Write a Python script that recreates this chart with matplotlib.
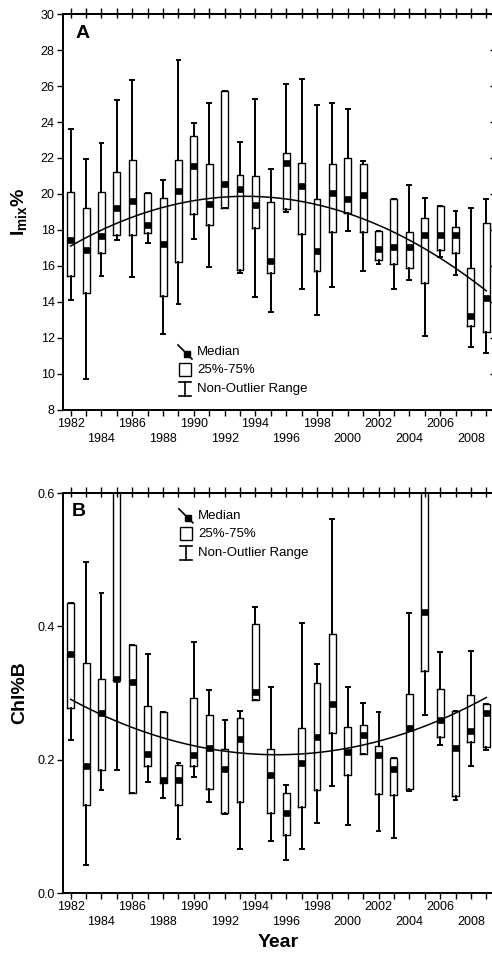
import numpy as np
import matplotlib as mpl
mpl.use('Agg')
import matplotlib.pyplot as plt
from matplotlib import transforms
from matplotlib.patches import Rectangle
from matplotlib.lines import Line2D

plt.rcParams['font.family'] = ['Liberation Sans', 'DejaVu Sans']
plt.rcParams['mathtext.fontset'] = 'custom'
plt.rcParams['mathtext.rm'] = 'Liberation Sans'
plt.rcParams['mathtext.bf'] = 'Liberation Sans:bold'

years = list(range(1982, 2010))

# panel A - Imix%  (whisker low, 25%, median, 75%, whisker high)
a_lo = [14.1, 9.7, 15.45, 17.45, 15.4, 17.3, 12.25, 13.9, 17.5, 15.95, 19.2, 15.6, 14.3, 13.45,
        19.0, 14.75, 13.3, 14.85, 17.95, 15.7, 16.1, 14.7, 15.2, 12.1, 16.5, 15.5, 11.5, 11.15]
a_q1 = [15.45, 14.5, 16.75, 17.7, 17.7, 17.85, 14.35, 16.2, 18.9, 18.3, 19.2, 15.8, 18.1, 15.6,
        19.15, 17.8, 15.7, 17.9, 18.95, 17.9, 16.35, 16.1, 15.9, 15.05, 16.9, 16.7, 12.65, 12.35]
a_med = [17.45, 16.9, 17.65, 19.25, 19.6, 18.3, 17.2, 20.15, 21.55, 19.45, 20.55, 20.3, 19.4, 16.3,
         21.7, 20.45, 16.85, 20.05, 19.7, 19.95, 16.95, 17.05, 17.05, 17.75, 17.75, 17.7, 13.2, 14.25]
a_q3 = [20.1, 19.2, 20.1, 21.2, 21.9, 20.05, 19.8, 21.9, 23.2, 21.65, 25.7, 21.05, 21.0, 19.55,
        22.3, 21.7, 19.7, 21.65, 22.0, 21.65, 17.95, 19.7, 17.9, 18.65, 19.35, 18.15, 15.9, 18.4]
a_hi = [23.6, 21.95, 22.85, 25.2, 26.35, 20.05, 20.8, 27.45, 23.95, 25.05, 25.7, 22.9, 25.3, 21.4,
        26.1, 26.4, 24.95, 25.05, 24.75, 21.85, 17.95, 19.7, 20.5, 19.8, 19.35, 19.05, 19.2, 19.7]

# panel B - Chl%B
b_lo = [0.23, 0.042, 0.155, 0.184, 0.1505, 0.1665, 0.1425, 0.0805, 0.1745, 0.1365, 0.119, 0.0655,
        0.2895, 0.078, 0.0495, 0.0655, 0.1055, 0.161, 0.1015, 0.209, 0.093, 0.082, 0.153, 0.2665,
        0.222, 0.1395, 0.1905, 0.2145]
b_q1 = [0.2775, 0.1325, 0.184, 0.32, 0.1505, 0.191, 0.165, 0.1325, 0.19, 0.156, 0.1195, 0.137,
        0.2895, 0.1195, 0.0875, 0.129, 0.1545, 0.24, 0.177, 0.209, 0.1485, 0.1465, 0.156, 0.3325,
        0.234, 0.145, 0.226, 0.2195]
b_med = [0.359, 0.19, 0.2705, 0.3215, 0.3165, 0.209, 0.169, 0.169, 0.207, 0.217, 0.1855, 0.2305,
         0.302, 0.177, 0.12, 0.1945, 0.2345, 0.283, 0.211, 0.237, 0.207, 0.1855, 0.247, 0.421,
         0.2595, 0.217, 0.243, 0.2705]
b_q3 = [0.4355, 0.345, 0.3205, 0.75, 0.3725, 0.2805, 0.272, 0.1915, 0.293, 0.267, 0.2165, 0.262,
        0.404, 0.2155, 0.1495, 0.248, 0.3145, 0.388, 0.249, 0.252, 0.2205, 0.203, 0.299, 0.75,
        0.306, 0.273, 0.2965, 0.2835]
b_hi = [0.4355, 0.497, 0.4505, 0.85, 0.3725, 0.358, 0.272, 0.1955, 0.377, 0.3045, 0.26, 0.2725,
        0.4285, 0.3085, 0.1615, 0.4055, 0.3435, 0.5615, 0.3085, 0.2855, 0.2715, 0.203, 0.4205, 0.85,
        0.3615, 0.273, 0.363, 0.2835]

fig = plt.figure(figsize=(4.92, 9.64), dpi=100)
axA = fig.add_axes([63/492, 1 - 410/964, 431/492, 396/964])
axB = fig.add_axes([63/492, 1 - 893/964, 431/492, 400/964])


def boxes(ax, lo, q1, med, q3, hi):
    stats = [dict(whislo=l, q1=a, med=m, q3=b, whishi=h, fliers=[])
             for l, a, m, b, h in zip(lo, q1, med, q3, hi)]
    ax.bxp(stats, positions=years, widths=0.45, capwidths=0.25, showfliers=False,
           boxprops=dict(color='black', lw=1.0),
           whiskerprops=dict(color='black', lw=1.4),
           capprops=dict(color='black', lw=1.4),
           medianprops=dict(color='black', lw=4.8, solid_capstyle='butt'))
    # quadratic trend through the yearly medians
    c = np.polyfit(years, med, 2)
    xs = np.linspace(years[0], years[-1], 200)
    ax.plot(xs, np.polyval(c, xs), color='black', lw=1.1)


def key(ax, x0, y0):
    # little legend, offsets in pixels from an anchor in axes coords
    t = (transforms.Affine2D().scale(1 / fig.dpi) + fig.dpi_scale_trans
         + transforms.ScaledTranslation(x0, y0, ax.transAxes))
    ax.add_line(Line2D([-7, 7], [7, -7], color='black', lw=1.2, transform=t))
    ax.add_patch(Rectangle((-1, -5), 6, 6, color='black', transform=t))
    ax.add_patch(Rectangle((-6, -24.5), 12, 13, fill=False, ec='black', lw=1.0, transform=t))
    ax.add_line(Line2D([0, 0], [-30, -44], color='black', lw=1.2, transform=t))
    ax.add_line(Line2D([-6, 6], [-30, -30], color='black', lw=1.2, transform=t))
    ax.add_line(Line2D([-6, 6], [-44, -44], color='black', lw=1.2, transform=t))
    ax.text(12, 0, 'Median', transform=t, va='center', fontsize=9.5)
    ax.text(12, -18, '25%-75%', transform=t, va='center', fontsize=9.5)
    ax.text(12, -37, 'Non-Outlier Range', transform=t, va='center', fontsize=9.5)


boxes(axA, a_lo, a_q1, a_med, a_q3, a_hi)
boxes(axB, b_lo, b_q1, b_med, b_q3, b_hi)

xlabels = []
for y in years:
    if y % 4 == 2:
        xlabels.append(str(y))
    elif y % 2 == 0:
        xlabels.append('\n' + str(y))
    else:
        xlabels.append('')

for ax in (axA, axB):
    ax.set_xlim(1981.5, 2009.5)
    ax.set_xticks(years)
    ax.set_xticklabels(xlabels, fontsize=9, linespacing=1.35)
    ax.tick_params(axis='x', bottom=True, top=True, direction='out', length=4, width=1, pad=2)
    ax.tick_params(axis='x', which='major', top=True)
    for s in ax.spines.values():
        s.set_linewidth(1.4)
    ax.tick_params(axis='y', labelsize=9, length=4, width=1, pad=2)

# top ticks inward
for ax in (axA, axB):
    sec = ax.secondary_xaxis('top')
    sec.set_xticks(years)
    sec.tick_params(direction='in', length=3, width=1, labeltop=False)
    sec.set_xticklabels([])
    sec.spines['top'].set_linewidth(1.4)

axA.set_ylim(8, 30)
axA.set_yticks(np.arange(8, 31, 2))
secy = axA.secondary_yaxis('right')
secy.set_yticks(np.arange(8, 31, 2))
secy.tick_params(direction='in', length=3, width=1, labelright=False)
secy.set_yticklabels([])

axB.set_ylim(0, 0.6)
axB.set_yticks([0.0, 0.2, 0.4, 0.6])
axB.set_yticklabels(['0.0', '0.2', '0.4', '0.6'])

axA.set_ylabel(r'$\mathbf{I_{mix}\%}$', fontsize=14)
axA.yaxis.set_label_coords(-0.08, 0.5)
axB.set_ylabel('Chl%B', fontsize=14, fontweight='bold')
axB.yaxis.set_label_coords(-0.08, 0.5)
axB.set_xlabel('Year', fontsize=14, fontweight='bold', labelpad=4)

axA.text(0.028, 0.972, 'A', transform=axA.transAxes, fontsize=14, fontweight='bold', va='top')
axB.text(0.021, 0.975, 'B', transform=axB.transAxes, fontsize=14, fontweight='bold', va='top')

key(axA, 0.283, 0.1465)
key(axB, 0.285, 0.943)

fig.savefig('out.png', dpi=100)
